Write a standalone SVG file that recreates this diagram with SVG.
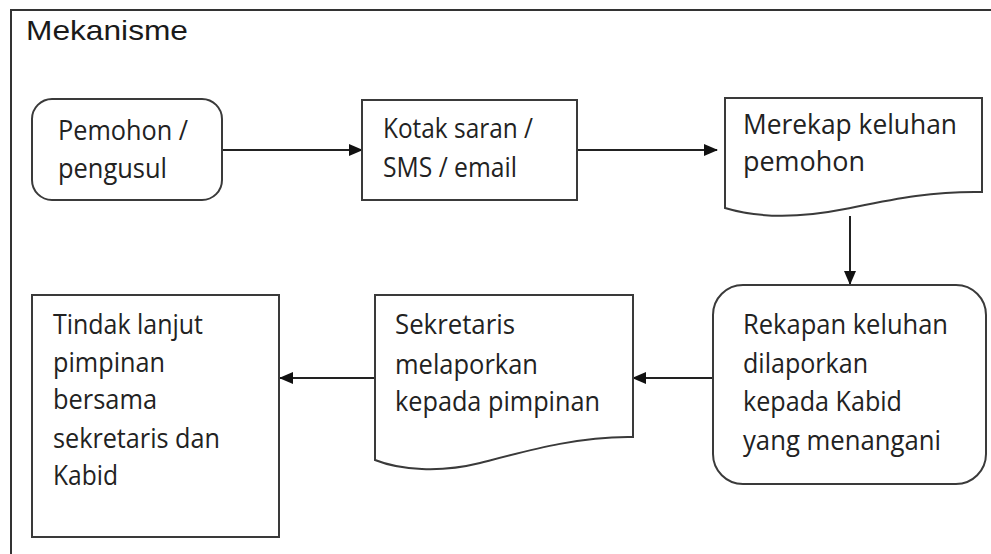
<svg xmlns="http://www.w3.org/2000/svg" width="991" height="554" viewBox="0 0 991 554">
<style>
.box{fill:#fff;stroke:#3a3a3a;stroke-width:2}
.t{font-family:"Open Sans","Noto Sans",sans-serif;font-size:27px;fill:#222}
.h{font-family:"Liberation Sans",Arial,sans-serif;font-size:28px;fill:#1a1a1a}
.c{stroke:#222;stroke-width:2;fill:none;marker-end:url(#ah)}
.frame{stroke:#333;stroke-width:2;fill:none}
</style>
<defs>
<marker id="ah" markerUnits="userSpaceOnUse" markerWidth="14" markerHeight="12" refX="13" refY="6" orient="auto">
<path d="M0,0 L14,6 L0,12 Z" fill="#111"/>
</marker>
</defs>
<rect width="991" height="554" fill="#fff"/>
<g id="frame">
<path class="frame" d="M11,554 V10 H991"/>
<text class="h" x="26" y="40" textLength="162" lengthAdjust="spacingAndGlyphs">Mekanisme</text>
</g>
<g id="connectors">
<line class="c" x1="223" y1="150" x2="362" y2="150"/>
<line class="c" x1="578" y1="150" x2="717" y2="150"/>
<line class="c" x1="850" y1="216" x2="850" y2="284"/>
<line class="c" x1="713" y1="378" x2="633" y2="378"/>
<line class="c" x1="375" y1="378" x2="280" y2="378"/>
</g>
<g id="pemohon">
<rect class="box" x="32" y="99" width="190" height="101" rx="20"/>
<text class="t" x="58" y="140" textLength="130" lengthAdjust="spacingAndGlyphs">Pemohon /</text>
<text class="t" x="58" y="178" textLength="109" lengthAdjust="spacingAndGlyphs">pengusul</text>
</g>
<g id="kotak">
<rect class="box" x="362" y="100" width="215" height="100"/>
<text class="t" x="383" y="138" textLength="150" lengthAdjust="spacingAndGlyphs">Kotak saran /</text>
<text class="t" x="383" y="177" textLength="134" lengthAdjust="spacingAndGlyphs">SMS / email</text>
</g>
<g id="merekap">
<path class="box" d="M725,98 H982 V192 C930,191 890,200 845,209 C795,219 755,217 725,208 Z"/>
<text class="t" x="743" y="134" textLength="214" lengthAdjust="spacingAndGlyphs">Merekap keluhan</text>
<text class="t" x="743" y="171" textLength="122" lengthAdjust="spacingAndGlyphs">pemohon</text>
</g>
<g id="rekapan">
<rect class="box" x="713" y="285" width="273" height="199" rx="30"/>
<text class="t" x="743" y="334" textLength="205" lengthAdjust="spacingAndGlyphs">Rekapan keluhan</text>
<text class="t" x="743" y="373" textLength="125" lengthAdjust="spacingAndGlyphs">dilaporkan</text>
<text class="t" x="743" y="411" textLength="159" lengthAdjust="spacingAndGlyphs">kepada Kabid</text>
<text class="t" x="743" y="450" textLength="198" lengthAdjust="spacingAndGlyphs">yang menangani</text>
</g>
<g id="sekretaris">
<path class="box" d="M375,295 H633 V437 C580,436 530,450 480,463 C440,473 400,470 375,460 Z"/>
<text class="t" x="395" y="334" textLength="120" lengthAdjust="spacingAndGlyphs">Sekretaris</text>
<text class="t" x="395" y="374" textLength="143" lengthAdjust="spacingAndGlyphs">melaporkan</text>
<text class="t" x="395" y="411" textLength="205" lengthAdjust="spacingAndGlyphs">kepada pimpinan</text>
</g>
<g id="tindak">
<rect class="box" x="32" y="295" width="247" height="242"/>
<text class="t" x="53" y="334" textLength="150" lengthAdjust="spacingAndGlyphs">Tindak lanjut</text>
<text class="t" x="53" y="372" textLength="112" lengthAdjust="spacingAndGlyphs">pimpinan</text>
<text class="t" x="53" y="409" textLength="104" lengthAdjust="spacingAndGlyphs">bersama</text>
<text class="t" x="53" y="448" textLength="167" lengthAdjust="spacingAndGlyphs">sekretaris dan</text>
<text class="t" x="53" y="485" textLength="65" lengthAdjust="spacingAndGlyphs">Kabid</text>
</g>
</svg>
